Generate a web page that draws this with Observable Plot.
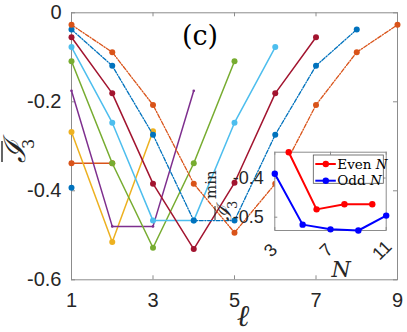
<!DOCTYPE html>
<html><head><meta charset="utf-8">
<script src="https://cdn.jsdelivr.net/npm/d3@7"></script>
<script src="https://cdn.jsdelivr.net/npm/@observablehq/plot@0.6"></script>
<style>
body{margin:0;background:#fff;}
#wrap{position:relative;width:407px;height:332px;overflow:hidden;}
#wrap svg{position:absolute;overflow:visible;}
</style></head><body><div id="wrap"></div>
<script>
// ---- main chart data ----
const ellTicks = [1, 3, 5, 7, 9];
const yTicks = [0, -0.2, -0.4, -0.6];
const s1 = [-0.393];
const s2 = [-0.338, -0.338];
const s3 = [-0.268, -0.515, -0.266];
const s4 = [-0.175, -0.480, -0.480, -0.175];
const s5 = [-0.109, -0.338, -0.528, -0.338, -0.109];
const s6 = [-0.077, -0.247, -0.467, -0.467, -0.247, -0.077];
const s7 = [-0.055, -0.181, -0.384, -0.531, -0.382, -0.181, -0.055];
const s8 = [-0.0375, -0.119, -0.274, -0.467, -0.467, -0.274, -0.119, -0.0375];
const s9 = [-0.027, -0.0885, -0.207, -0.384, -0.494, -0.384, -0.207, -0.0885, -0.027];
const seriesValues = [s1, s2, s3, s4, s5, s6, s7, s8, s9];
const seriesColors = ["#0072BD", "#D95319", "#EDB120", "#7E2F8E", "#77AC30", "#4DBEEE", "#A2142F", "#0072BD", "#D95319"];
const seriesDash = [null, null, null, null, null, null, null, "4,1.6,1.2,1.6", "4,1.6,1.2,1.6"];
const seriesDotR = [3, 3, 3, 1.3, 3, 3, 3, 3, 3];

// ---- inset data ----
const evenN = [4, 6, 8, 10];
const evenVals = [-0.334, -0.480, -0.467, -0.467];
const oddN = [3, 5, 7, 9, 11];
const oddVals = [-0.389, -0.519, -0.531, -0.534, -0.496];
const insetXTicks = [3, 7, 11];
const insetYTicks = [-0.4, -0.5];
const legendLabels = ["Even", "Odd"];
const legendColors = ["#FF0000", "#0000FF"];

const wrap = document.getElementById("wrap");
const sansFont = "'Liberation Sans', Arial, sans-serif";
const serifFont = "'DejaVu Serif', 'Liberation Serif', serif";
const axisGrey = "#8c8c8c";

// ---------------- main plot ----------------
const W = 407, H = 332, mL = 71, mR = 10, mT = 12.3, mB = 52.7;
const fw = W - mL - mR, fh = H - mT - mB, tl = 4;
const mainMarks = [
  Plot.frame({stroke: axisGrey}),
  Plot.tickX(ellTicks, {x: d => d, insetTop: fh - tl, stroke: axisGrey}),
  Plot.tickX(ellTicks, {x: d => d, insetBottom: fh - tl, stroke: axisGrey}),
  Plot.tickY(yTicks, {y: d => d, insetRight: fw - tl, stroke: axisGrey}),
  Plot.tickY(yTicks, {y: d => d, insetLeft: fw - tl, stroke: axisGrey}),
  Plot.axisX({ticks: ellTicks, tickSize: 0, tickPadding: 13, fontSize: 20, tickFormat: d => String(d), label: null}),
  Plot.axisY({ticks: yTicks, tickSize: 0, tickPadding: 10, fontSize: 20, tickFormat: d => d === 0 ? "0" : d.toFixed(1), label: null})
];
seriesValues.forEach((vals, k) => {
  const rows = vals.map((v, i) => ({ell: i + 1, v}));
  mainMarks.push(Plot.line(rows, {x: "ell", y: "v", stroke: seriesColors[k], strokeWidth: seriesDash[k] ? 1.3 : 1.5,
    strokeDasharray: seriesDash[k] || undefined}));
  mainMarks.push(Plot.dot(rows, {x: "ell", y: "v", fill: seriesColors[k], r: seriesDotR[k]}));
});
const main = Plot.plot({
  width: W, height: H, marginLeft: mL, marginRight: mR, marginTop: mT, marginBottom: mB,
  x: {domain: [1, 9], axis: null},
  y: {domain: [-0.6, 0], axis: null},
  style: {background: "transparent", fontFamily: sansFont, color: "#262626", overflow: "visible"},
  marks: mainMarks
});
main.style.left = "0px"; main.style.top = "0px";
wrap.appendChild(main);
const ms = d3.select(main);
// panel label
ms.append("text").attr("x", 200).attr("y", 45).attr("text-anchor", "middle")
  .attr("font-family", serifFont).attr("font-size", 27).attr("fill", "#000").text("(c)");
// x label
ms.append("text").attr("x", 243).attr("y", 326).attr("text-anchor", "middle")
  .attr("font-family", serifFont).attr("font-style", "italic").attr("font-size", 30).attr("fill", "#262626").text("ℓ");
// y label
const yl = ms.append("g").attr("transform", "translate(25,163) rotate(-90)").attr("fill", "#262626")
  .attr("font-family", serifFont).attr("text-anchor", "start");
const ylI = yl.append("text").attr("x", 0).attr("y", 0).attr("font-size", 30).attr("font-style", "italic").text("ℐ");
const ylw = ylI.node().getComputedTextLength();
yl.append("line").attr("x1", 1).attr("x2", ylw).attr("y1", -23).attr("y2", -23).attr("stroke", "#262626").attr("stroke-width", 1.4);
yl.append("text").attr("x", ylw - 8).attr("y", 9).attr("font-size", 16).text("3");

// ---------------- inset ----------------
const iW = 200, iH = 140, iL = 74.3, iR = 14.3, iT = 11.7, iB = 50;
const ifw = iW - iL - iR, ifh = iH - iT - iB, itl = 3;
const insetMarks = [
  Plot.frame({fill: "white", stroke: axisGrey}),
  Plot.tickX(insetXTicks, {x: d => d, insetTop: ifh - itl, stroke: axisGrey}),
  Plot.tickX(insetXTicks, {x: d => d, insetBottom: ifh - itl, stroke: axisGrey}),
  Plot.tickY(insetYTicks, {y: d => d, insetRight: ifw - itl, stroke: axisGrey}),
  Plot.tickY(insetYTicks, {y: d => d, insetLeft: ifw - itl, stroke: axisGrey}),
  Plot.axisY({ticks: insetYTicks, tickSize: 0, tickPadding: 11, fontSize: 18, tickFormat: d => d.toFixed(1), label: null}),
  Plot.text(insetXTicks, {x: d => d, text: d => String(d), frameAnchor: "bottom", dy: 24, rotate: -45, fontSize: 18, fill: "#262626"}),
  Plot.line(evenN.map((n, i) => ({n, v: evenVals[i]})), {x: "n", y: "v", stroke: legendColors[0], strokeWidth: 2}),
  Plot.dot(evenN.map((n, i) => ({n, v: evenVals[i]})), {x: "n", y: "v", fill: legendColors[0], r: 3.2}),
  Plot.line(oddN.map((n, i) => ({n, v: oddVals[i]})), {x: "n", y: "v", stroke: legendColors[1], strokeWidth: 2}),
  Plot.dot(oddN.map((n, i) => ({n, v: oddVals[i]})), {x: "n", y: "v", fill: legendColors[1], r: 3.2})
];
const inset = Plot.plot({
  width: iW, height: iH, marginLeft: iL, marginRight: iR, marginTop: iT, marginBottom: iB,
  x: {domain: [3, 11], axis: null},
  y: {domain: d3.extent([...evenVals, ...oddVals]), axis: null},
  style: {background: "transparent", fontFamily: sansFont, color: "#262626", overflow: "visible"},
  marks: insetMarks
});
inset.style.left = "200px"; inset.style.top = "140px";
wrap.appendChild(inset);
const is = d3.select(inset);
// inset x label
is.append("text").attr("x", 141).attr("y", 137).attr("text-anchor", "middle")
  .attr("font-family", serifFont).attr("font-style", "italic").attr("font-size", 22).attr("fill", "#262626").text("N");
// inset y label
const il = is.append("g").attr("transform", "translate(31,81) rotate(-90)").attr("fill", "#262626")
  .attr("font-family", serifFont).attr("text-anchor", "start");
const ilI = il.append("text").attr("x", 0).attr("y", 0).attr("font-size", 20).attr("font-style", "italic").text("ℐ");
const ilw = ilI.node().getComputedTextLength();
il.append("line").attr("x1", 1).attr("x2", ilw).attr("y1", -16).attr("y2", -16).attr("stroke", "#262626").attr("stroke-width", 1);
il.append("text").attr("x", ilw - 3).attr("y", 6).attr("font-size", 13).text("3");
il.append("text").attr("x", ilw + 7).attr("y", -15).attr("font-size", 15).text("min");
// legend
const lg = is.append("g").attr("transform", "translate(113.3,15)").attr("text-anchor", "start");
lg.append("rect").attr("width", 70).attr("height", 28.3).attr("fill", "white").attr("stroke", "#555").attr("stroke-width", 0.8);
legendLabels.forEach((lab, i) => {
  const y = 9 + i * 16.7;
  lg.append("line").attr("x1", 2).attr("x2", 22.5).attr("y1", y).attr("y2", y).attr("stroke", legendColors[i]).attr("stroke-width", 2);
  lg.append("circle").attr("cx", 12.5).attr("cy", y).attr("r", 3.2).attr("fill", legendColors[i]);
  const t = lg.append("text").attr("x", 24).attr("y", y).attr("dy", "0.35em").attr("font-family", serifFont)
    .attr("font-size", 13.5).attr("fill", "#000");
  t.append("tspan").text(lab + " ");
  t.append("tspan").attr("font-style", "italic").text("N");
});
</script></body></html>
